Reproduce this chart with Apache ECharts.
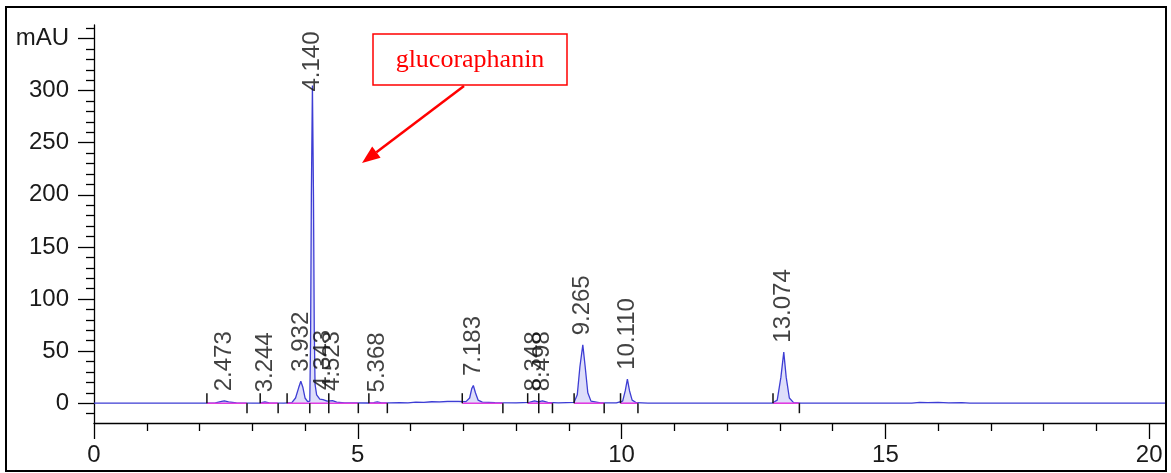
<!DOCTYPE html>
<html>
<head>
<meta charset="utf-8">
<script src="https://cdn.jsdelivr.net/npm/echarts@6/dist/echarts.min.js"></script>
<style>
  html, body { margin: 0; padding: 0; background: #fff; }
  #chart { width: 1171px; height: 473px; }
</style>
</head>
<body>
<div id="chart"></div>
<script>
// chromatogram trace (min, mAU)
const traceTime = [0, 2.1, 2.3, 2.42, 2.47, 2.55, 2.7, 3.0, 3.15, 3.24, 3.32, 3.6, 3.75, 3.82, 3.88, 3.92, 3.96, 4.0, 4.05, 4.09,
  4.105, 4.12, 4.14, 4.16, 4.175, 4.19, 4.22, 4.28, 4.34, 4.42, 4.52, 4.6, 4.75, 5.2, 5.3, 5.37, 5.45, 5.6, 5.8, 5.95,
  6.1, 6.25, 6.4, 6.55, 6.7, 6.9, 7.05, 7.12, 7.16, 7.19, 7.23, 7.28, 7.36, 7.6, 8.0, 8.25, 8.35, 8.42, 8.5, 8.6,
  8.8, 9.1, 9.16, 9.21, 9.265, 9.31, 9.36, 9.42, 9.6, 9.9, 10.02, 10.07, 10.11, 10.15, 10.2, 10.28, 10.5, 12.85, 12.95, 13.02,
  13.074, 13.12, 13.18, 13.26, 13.4, 15.5, 15.65, 15.8, 16.0, 16.2, 16.45, 16.6, 20.3]
const traceSignal = [0, 0, 0.4, 1.8, 2.3, 1.2, 0.3, 0, 0.2, 1.3, 0.3, 0, 0.5, 5, 15, 21, 15, 5, 1.5, 2,
  60, 200, 305, 200, 70, 18, 8, 4, 3.5, 2, 2.5, 1, 0.3, 0.2, 0.6, 1.2, 0.4, 0.3, 0.6, 0.4,
  1.0, 0.8, 1.4, 1.2, 1.8, 1.7, 1.5, 5, 14, 17, 10, 3, 1, 0.5, 0.4, 0.8, 2.2, 1.2, 2.3, 0.8,
  0.4, 0.8, 8, 35, 56, 35, 10, 2, 0.3, 0.3, 2, 12, 23, 12, 3, 0.5, 0, 0, 3, 25,
  49, 25, 5, 0.5, 0, 0, 0.7, 0.5, 0.8, 0.4, 0.6, 0, 0]

// peak table
const peakLabels = ['2.473', '3.244', '3.932', '4.140', '4.343', '4.523', '5.368', '7.183', '8.348', '8.498', '9.265', '10.110', '13.074']
const peakTimes = [2.473, 3.244, 3.932, 4.140, 4.343, 4.523, 5.368, 7.183, 8.348, 8.498, 9.265, 10.110, 13.074]
const peakHeights = [2.3, 1.3, 21, 290, 3.5, 2.5, 1.2, 17, 2.2, 2.3, 56, 23, 49]

// integration events
const integStart = [2.14, 3.15, 3.66, 5.21, 6.98, 8.22, 9.10, 9.98, 12.87]
const integEnd = [2.90, 3.49, 5.01, 5.56, 7.75, 8.69, 9.67, 10.31, 13.37]
const tickUp = [2.14, 3.15, 3.66, 4.45, 5.21, 6.98, 8.22, 8.43, 9.10, 9.98, 12.87]
const tickDown = [2.90, 3.49, 4.09, 4.45, 5.01, 5.56, 7.75, 8.43, 8.69, 9.67, 10.31, 13.37]

// axis ticks
const xMajor = [0, 5, 10, 15, 20]
const xMinor = [1, 2, 3, 4, 6, 7, 8, 9, 11, 12, 13, 14, 16, 17, 18, 19]
const yMajor = [0, 50, 100, 150, 200, 250, 300, 350]
const yMinor = [-10, 10, 20, 30, 40, 60, 70, 80, 90, 110, 120, 130, 140, 160, 170, 180, 190,
  210, 220, 230, 240, 260, 270, 280, 290, 310, 320, 330, 340, 360]

const FONT = 'Liberation Sans, Arial, sans-serif'
const X_MIN = 0, X_MAX = 20.3, Y_MIN = -19, Y_MAX = 363

const chart = echarts.init(document.getElementById('chart'))

const xBase = {
  type: 'value', min: X_MIN, max: X_MAX, position: 'bottom',
  splitLine: { show: false },
}
const yBase = {
  type: 'value', min: Y_MIN, max: Y_MAX, position: 'left',
  splitLine: { show: false },
}

const option = {
  animation: false,
  backgroundColor: '#fff',
  grid: { left: 94, right: 6, top: 25, bottom: 50 },
  xAxis: [
    {
      ...xBase,
      axisLine: { show: true, onZero: false, lineStyle: { color: '#000', width: 1.3 } },
      axisTick: { show: true, customValues: xMajor, length: 16, lineStyle: { color: '#000', width: 1.3 } },
      axisLabel: { customValues: xMajor, fontSize: 24, fontFamily: FONT, color: '#1a1a1a', margin: 20 },
    },
    {
      ...xBase,
      axisLine: { show: false, onZero: false },
      axisTick: { show: true, customValues: xMinor, length: 8, lineStyle: { color: '#000', width: 1.3 } },
      axisLabel: { show: false },
    },
  ],
  yAxis: [
    {
      ...yBase,
      axisLine: { show: true, onZero: false, lineStyle: { color: '#000', width: 1.3 } },
      axisTick: { show: true, customValues: yMajor, length: 16, lineStyle: { color: '#000', width: 1.3 } },
      axisLabel: {
        customValues: yMajor, fontSize: 24, fontFamily: FONT, color: '#1a1a1a', margin: 25,
        formatter: v => (v === 350 ? 'mAU' : String(v)),
      },
    },
    {
      ...yBase,
      axisLine: { show: false, onZero: false },
      axisTick: { show: true, customValues: yMinor, length: 8, lineStyle: { color: '#000', width: 1.3 } },
      axisLabel: { show: false },
    },
  ],
  series: [
    {
      type: 'line',
      data: traceTime.map((t, i) => [t, traceSignal[i]]),
      showSymbol: false,
      lineStyle: { color: '#3d3dd4', width: 1.3 },
      areaStyle: { color: 'rgba(150, 150, 240, 0.45)', origin: 'auto' },
      z: 2,
    },
    {
      type: 'custom',
      data: integStart.map((s, i) => [s, integEnd[i]]),
      renderItem: (params, api) => {
        const a = api.coord([api.value(0), 0])
        const b = api.coord([api.value(1), 0])
        return {
          type: 'line',
          shape: { x1: a[0], y1: a[1], x2: b[0], y2: b[1] },
          style: { stroke: '#e03ce0', lineWidth: 1.6 },
        }
      },
      z: 3,
    },
    {
      type: 'custom',
      data: tickUp.map(t => [t, 1]).concat(tickDown.map(t => [t, -1])),
      renderItem: (params, api) => {
        const p = api.coord([api.value(0), 0])
        const dir = api.value(1)
        return {
          type: 'line',
          shape: { x1: p[0], y1: p[1], x2: p[0], y2: p[1] - dir * 10 },
          style: { stroke: '#111', lineWidth: 1.5 },
        }
      },
      z: 4,
    },
    {
      type: 'scatter',
      data: peakTimes.map((t, i) => [t, peakHeights[i]]),
      symbolSize: 1,
      itemStyle: { color: 'transparent' },
      label: {
        show: true,
        position: 'top',
        distance: 9,
        rotate: 90,
        align: 'left',
        verticalAlign: 'middle',
        fontSize: 24,
        fontFamily: FONT,
        color: '#111',
        formatter: p => peakLabels[p.dataIndex],
      },
      z: 5,
    },
  ],
  graphic: [
    {
      type: 'rect',
      shape: { x: 6, y: 7, width: 1160, height: 464 },
      style: { fill: 'none', stroke: '#000', lineWidth: 2 },
      silent: true,
    },
    {
      type: 'rect',
      shape: { x: 373, y: 34, width: 194, height: 51 },
      style: { fill: '#fff', stroke: '#f00', lineWidth: 1.5 },
      z: 10,
    },
    {
      type: 'text',
      x: 470, y: 60,
      style: {
        text: 'glucoraphanin', fill: '#f00', fontSize: 26,
        fontFamily: 'Liberation Serif, Times New Roman, serif',
        align: 'center', verticalAlign: 'middle',
      },
      z: 11,
    },
    {
      type: 'line',
      shape: { x1: 464, y1: 86, x2: 376.4, y2: 152.2 },
      style: { stroke: '#f00', lineWidth: 2.5 },
      z: 10,
    },
    {
      type: 'polygon',
      shape: { points: [[362, 163], [380.6, 157.8], [372.2, 146.6]] },
      style: { fill: '#f00' },
      z: 10,
    },
  ],
}

chart.setOption(option)
</script>
</body>
</html>
